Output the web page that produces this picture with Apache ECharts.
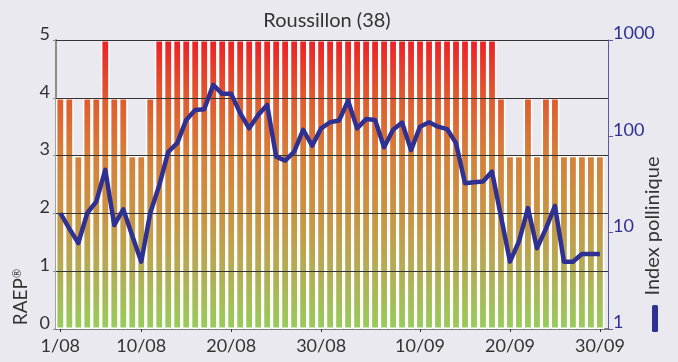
<!DOCTYPE html>
<html>
<head>
<meta charset="utf-8">
<script src="https://cdn.jsdelivr.net/npm/echarts@6/dist/echarts.min.js"></script>
<style>
  html, body { margin: 0; padding: 0; background: #EAE9EF; }
  #chart { width: 678px; height: 362px; }
</style>
</head>
<body>
<div id="chart"></div>
<script>
// Days of August and September
const days = [
  '1/08','2/08','3/08','4/08','5/08','6/08','7/08','8/08','9/08','10/08',
  '11/08','12/08','13/08','14/08','15/08','16/08','17/08','18/08','19/08','20/08',
  '21/08','22/08','23/08','24/08','25/08','26/08','27/08','28/08','29/08','30/08','31/08',
  '1/09','2/09','3/09','4/09','5/09','6/09','7/09','8/09','9/09','10/09',
  '11/09','12/09','13/09','14/09','15/09','16/09','17/09','18/09','19/09','20/09',
  '21/09','22/09','23/09','24/09','25/09','26/09','27/09','28/09','29/09','30/09'
];

// Allergy risk (RAEP), 0 to 5
const raep = [
  4, 4, 3, 4, 4, 5, 4, 4, 3, 3, 4,
  5, 5, 5, 5, 5, 5, 5, 5, 5, 5, 5, 5, 5, 5, 5, 5, 5, 5, 5,
  5, 5, 5, 5, 5, 5, 5, 5, 5, 5, 5, 5, 5, 5, 5, 5, 5, 5, 5,
  4, 3, 3, 4, 3, 4, 4, 3, 3, 3, 3, 3
];

// Pollen index (log scale)
const pollen = [
  16, 11, 7.8, 16, 21, 45, 12, 17.5, 9.3, 5, 16,
  31, 69, 85, 148, 188, 191, 342, 276, 276, 174,
  121, 167, 212, 61.5, 56, 69, 117, 80, 121, 140,
  146, 235, 121, 151, 148, 77, 117, 139, 72, 126,
  140, 126, 119, 85, 32.6, 33.4, 34, 43, 14.7, 5,
  8.1, 18, 6.9, 11, 19, 5, 5, 6, 6, 6
];

// Labelled dates on the time axis
const tickLabels = ['1/08', '10/08', '20/08', '30/08', '10/09', '20/09', '30/09'];

const dayIdx = days.map((d, i) => i);
const majorIdx = tickLabels.map(t => days.indexOf(t));

const FONT = 'Lato';
const TEXT = '#333333';
const BLUE = '#2E3192';

const chart = echarts.init(document.getElementById('chart'));

const barGradient = {
  type: 'linear', x: 0, y: 40, x2: 0, y2: 329, global: true,
  colorStops: [
    { offset: 0.0, color: '#EE2026' },
    { offset: 0.2, color: '#E05A2E' },
    { offset: 0.4, color: '#D5803A' },
    { offset: 0.6, color: '#C99443' },
    { offset: 0.8, color: '#B3AD55' },
    { offset: 1.0, color: '#97CC5A' }
  ]
};

chart.setOption({
  backgroundColor: '#EAE9EF',
  animation: false,
  textStyle: { fontFamily: FONT },
  title: {
    text: 'Roussillon (38)',
    left: 322, top: 6, textAlign: 'center',
    textStyle: { fontFamily: FONT, fontSize: 20, fontWeight: 'normal', color: TEXT }
  },
  grid: { left: 56, right: 70, top: 40, bottom: 33 },
  legend: {
    data: [{ name: 'Index pollinique', icon: 'roundRect' }],
    orient: 'vertical',
    left: 652, top: 305, padding: 0,
    itemWidth: 6, itemHeight: 27,
    selectedMode: false,
    formatter: () => ''
  },
  xAxis: [
    {
      type: 'value', min: -0.48, max: 60.9, position: 'bottom',
      axisLine: { show: true, onZero: false, lineStyle: { color: '#555555', width: 1.5 } },
      axisTick: { show: true, inside: true, length: 6, customValues: dayIdx,
                  lineStyle: { color: '#333333', width: 1 } },
      axisLabel: { show: false },
      splitLine: { show: false }
    },
    {
      type: 'value', min: -0.48, max: 60.9, position: 'bottom', offset: 0,
      axisLine: { show: false, onZero: false },
      axisTick: { show: true, inside: false, length: 3, customValues: majorIdx,
                  lineStyle: { color: '#333333', width: 1 } },
      axisLabel: {
        show: true, customValues: majorIdx, margin: 8,
        fontFamily: FONT, fontSize: 18, color: TEXT,
        formatter: v => days[Math.round(v)]
      },
      splitLine: { show: false }
    }
  ],
  yAxis: [
    {
      type: 'value', min: 0, max: 5, interval: 1, position: 'left',
      axisLine: { show: true, onZero: false, lineStyle: { color: '#8C8C8C', width: 2 } },
      axisTick: { show: true, length: 3, lineStyle: { color: '#8C8C8C' } },
      axisLabel: { fontFamily: FONT, fontSize: 18, color: TEXT, margin: 6,
                   verticalAlign: 'bottom', lineHeight: 12 },
      splitLine: { show: false }
    },
    {
      type: 'log', logBase: 10, min: 1, max: 1000, position: 'right',
      axisLine: { show: true, onZero: false, lineStyle: { color: '#5A5AAA', width: 1 } },
      axisTick: { show: true, length: 5, lineStyle: { color: '#5A5AAA' } },
      axisLabel: { fontFamily: FONT, fontSize: 18, color: BLUE, margin: 5,
                   verticalAlign: 'bottom', lineHeight: 13,
                   formatter: v => String(Math.round(v)) },
      splitLine: { show: false }
    }
  ],
  graphic: [
    {
      type: 'text', x: 21, y: 297, rotation: Math.PI / 2,
      style: {
        text: 'RAEP{sup|®}', fontFamily: FONT, fontSize: 19, fill: TEXT,
        align: 'center', verticalAlign: 'middle',
        rich: { sup: { fontFamily: FONT, fontSize: 11, fill: TEXT, verticalAlign: 'top', padding: [0, 0, 8, 0] } }
      }
    },
    {
      type: 'text', x: 653, y: 226, rotation: Math.PI / 2,
      style: { text: 'Index pollinique', fontFamily: FONT, fontSize: 20, fill: TEXT,
               align: 'center', verticalAlign: 'middle' }
    }
  ],
  series: [
    {
      name: 'RAEP',
      type: 'bar',
      xAxisIndex: 0, yAxisIndex: 0,
      barWidth: 9,
      data: raep.map((v, i) => [i, v]),
      itemStyle: { color: barGradient, borderColor: '#FFFFFF', borderWidth: 1.6 },
      z: 2,
      markLine: {
        silent: true,
        symbol: ['none', 'none'],
        label: { show: false },
        lineStyle: { color: '#333333', width: 1, type: 'solid' },
        data: [1, 2, 3, 4, 5].map(v => ({ yAxis: v }))
      }
    },
    {
      name: 'Index pollinique',
      type: 'line',
      xAxisIndex: 0, yAxisIndex: 1,
      data: pollen.map((v, i) => [i, v]),
      showSymbol: false, symbol: 'none',
      color: BLUE,
      lineStyle: { color: BLUE, width: 4.5, join: 'round' },
      z: 10
    }
  ]
});
</script>
</body>
</html>
